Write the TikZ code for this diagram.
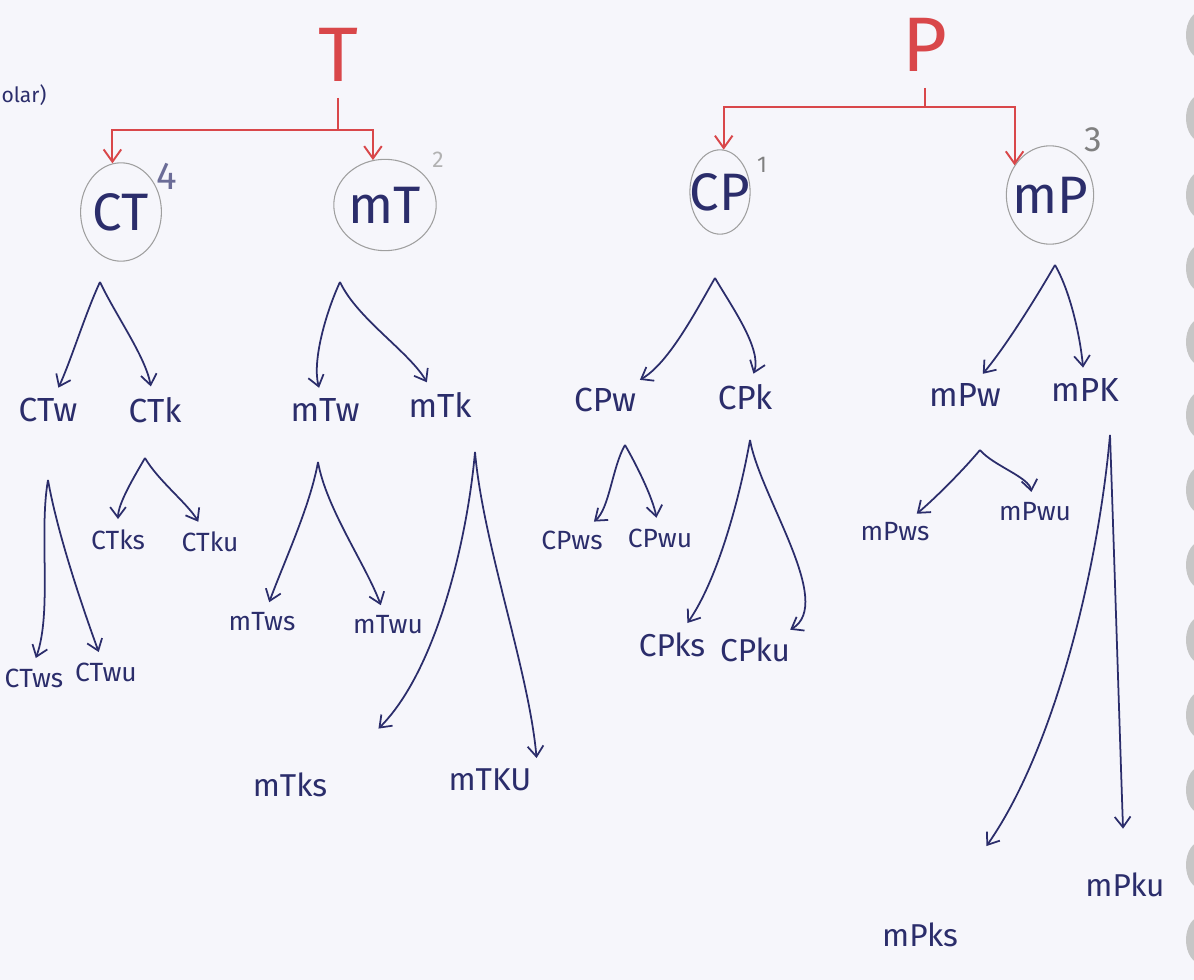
\documentclass[tikz,border=0pt]{standalone}
\usepackage{fontspec}
\setmainfont{Fira Sans}
\usetikzlibrary{shapes.geometric,arrows.meta}
\definecolor{ink}{HTML}{2B2D6B}
\definecolor{redink}{HTML}{D9474A}
\definecolor{paper}{HTML}{F6F6FB}

\begin{document}
\begin{tikzpicture}[
        x=0.02cm, y=0.02cm,
        root/.style = {text=redink, inner sep=0pt, font=\fontsize{44}{46}\selectfont}, % T и P
        bar/.style = {draw=redink, line width=1.1pt},
        bararrow/.style = {bar, -{Straight Barb[length=7pt,width=10pt]}},
        ring/.style = {ellipse, draw=gray!75, line width=0.6pt, text=ink, inner sep=0pt,
                minimum width=46pt, minimum height=56pt, font=\fontsize{30}{32}\selectfont},
        num/.style = {text=gray, font=\fontsize{16}{18}\selectfont},
        lvl/.style = {text=ink, inner sep=3pt, font=\fontsize{19}{22}\selectfont},
        leaf/.style = {text=ink, inner sep=3pt, font=\fontsize{15}{18}\selectfont},
        low/.style = {text=ink, inner sep=3pt, font=\fontsize{18}{20}\selectfont},
        kid/.style = {draw=ink, line width=1pt, looseness=0.75,
                -{Straight Barb[length=6pt,width=9pt]}, shorten >=3pt},
    ]

    % лист бумаги
    \fill[paper] (0,0) rectangle (1194,-980);
    \useasboundingbox (0,0) rectangle (1194,-980);
    \clip (0,0) rectangle (1194,-980);
    \foreach \y in {35,118,195,268,342,415,490,565,640,715,790,865,940}
        \fill[gray!45] (1202,-\y) ellipse (16 and 24);
    \node[text=ink, font=\fontsize{12}{14}\selectfont] (note) at (24,-95) {olar)};

    % корни
    \node[root] (t) at (338,-55) {T};
    \node[root] (p) at (925,-45) {P};
    \coordinate (t-j) at (338,-130);
    \coordinate (p-j) at (925,-107);

    \node[ring] (ct) at (121,-212) {CT};
    \node[ring, minimum width=50pt, minimum height=52pt] (mt) at (385,-205) {mT};
    \node[ring, inner xsep=-5pt, minimum width=30pt, minimum height=48pt] (cp) at (720,-192) {CP};
    \node[ring, inner xsep=-4pt, minimum height=56pt] (mp) at (1050,-195) {mP};

    \node[num, text=ink!70, font=\fontsize{22}{24}\selectfont] (ct-n) at (167,-176) {4};
    \node[num, text=gray!60, font=\fontsize{13}{15}\selectfont] (mt-n) at (438,-160) {2};
    \node[num, font=\fontsize{13}{15}\selectfont] (cp-n) at (762,-165) {1};
    \node[num, font=\fontsize{20}{22}\selectfont] (mp-n) at (1093,-140) {3};

    \draw[bar, shorten <=9pt] (t.south) -- (t-j);
    \draw[bararrow] (t-j) -| (ct.100);
    \draw[bararrow] (t-j) -| (mt.105);
    \draw[bar, shorten <=9pt] (p.south) -- (p-j);
    \draw[bararrow] (p-j) -| (cp.85);
    \draw[bararrow] (p-j) -| (mp.140);

    % второй уровень
    \coordinate (ct-a) at (100,-282);
    \coordinate (mt-a) at (340,-282);
    \coordinate (cp-a) at (715,-278);
    \coordinate (mp-a) at (1055,-265);

    \node[lvl] (ctw) at (48,-410) {CTw};
    \node[lvl] (ctk) at (155,-410) {CTk};
    \node[lvl] (mtw) at (325,-410) {mTw};
    \node[lvl] (mtk) at (440,-405) {mTk};
    \node[lvl] (cpw) at (605,-400) {CPw};
    \node[lvl] (cpk) at (745,-397) {CPk};
    \node[lvl] (mpw) at (965,-395) {mPw};
    \node[lvl] (mpk) at (1085,-390) {mPK};

    \draw[kid] (ct-a) to[out=-115, in=65] (ctw);
    \draw[kid] (ct-a) to[out=-65, in=100] (ctk);
    \draw[kid] (mt-a) to[out=-115, in=105] (mtw);
    \draw[kid] (mt-a) to[out=-65, in=120] (mtk);
    \draw[kid] (cp-a) to[out=-120, in=30] (cpw);
    \draw[kid] (cp-a) to[out=-60, in=70] (cpk);
    \draw[kid] (mp-a) to[out=-120, in=50] (mpw);
    \draw[kid] (mp-a) to[out=-60, in=95] (mpk);

    % третий уровень
    \coordinate (ctw-a) at (48,-480);
    \coordinate (ctk-a) at (145,-458);
    \coordinate (mtw-a) at (318,-462);
    \coordinate (mtk-a) at (475,-452);
    \coordinate (cpw-a) at (625,-445);
    \coordinate (cpk-a) at (750,-440);
    \coordinate (mpw-a) at (980,-450);
    \coordinate (mpk-a) at (1110,-435);

    \node[leaf] (ctws) at (34,-678) {CTws};
    \node[leaf] (ctwu) at (106,-672) {CTwu};
    \node[leaf] (ctks) at (118,-540) {CTks};
    \node[leaf] (ctku) at (210,-542) {CTku};
    \node[leaf] (mtws) at (262,-622) {mTws};
    \node[leaf] (mtwu) at (388,-625) {mTwu};
    \node[low] (mtks) at (290,-785) {mTks};
    \node[low] (mtku) at (490,-780) {mTKU};
    \node[leaf] (cpws) at (572,-540) {CPws};
    \node[leaf] (cpwu) at (660,-538) {CPwu};
    \node[low] (cpks) at (672,-645) {CPks};
    \node[low] (cpku) at (755,-650) {CPku};
    \node[leaf] (mpws) at (895,-532) {mPws};
    \node[leaf] (mpwu) at (1035,-512) {mPwu};
    \node[low] (mpks) at (920,-935) {mPks};
    \node[low] (mpku) at (1125,-885) {mPku};

    \draw[kid] (ctw-a) to[out=-100, in=70] (ctws.north);
    \draw[kid] (ctw-a) to[out=-80, in=110] (ctwu);
    \draw[kid] (ctk-a) to[out=-120, in=90] (ctks);
    \draw[kid] (ctk-a) to[out=-60, in=120] (ctku);
    \draw[kid] (mtw-a) to[out=-100, in=70] (mtws);
    \draw[kid] (mtw-a) to[out=-80, in=110] (mtwu);
    \draw[kid] (mtk-a) to[out=-95, in=45] ([shift={(42,35)}]mtks.north east);
    \draw[kid] (mtk-a) to[out=-85, in=95] (mtku.north east);
    \draw[kid] (cpw-a) to[out=-120, in=40] (cpws);
    \draw[kid] (cpw-a) to[out=-60, in=100] (cpwu);
    \draw[kid] (cpk-a) to[out=-100, in=55] (cpks);
    \draw[kid] (cpk-a) to[out=-80, in=30] (cpku);
    \draw[kid] (mpw-a) to[out=-130, in=40] (mpws);
    \draw[kid] (mpw-a) to[out=-50, in=100] (mpwu);
    \draw[kid] (mpk-a) to[out=-95, in=55] ([shift={(20,67)}]mpks.north east);
    \draw[kid, shorten >=22pt] (mpk-a) to[out=-88, in=92] (mpku);

\end{tikzpicture}
\end{document}
